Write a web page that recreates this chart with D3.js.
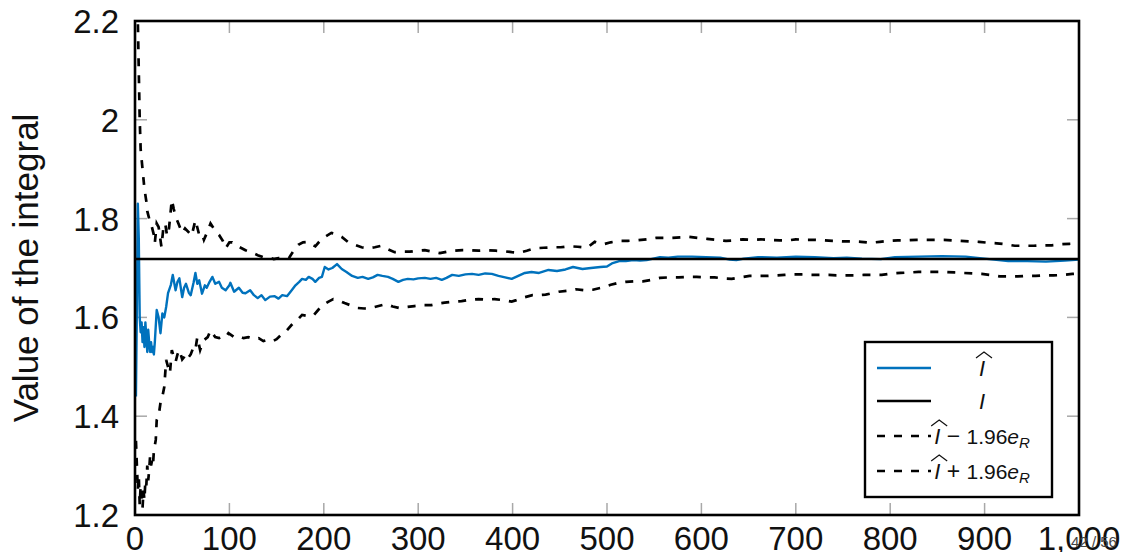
<!DOCTYPE html>
<html>
<head>
<meta charset="utf-8">
<script src="https://cdn.jsdelivr.net/npm/d3@7"></script>
<style>
  html, body { margin: 0; padding: 0; background: #fff; }
  svg { display: block; }
</style>
</head>
<body>
<svg id="chart" width="1126" height="552"></svg>
<script>
// ---------------- data ----------------
const trueValue = 1.71828;

const nHat = [1,2,3,4,5,6,7,8,9,10,11,12,13,14,15,16,17,18,19,20,21,23,25,27,29,31,33,35,38,40,43,45,47,50,52,54,57,59,62,64,66,68,71,74,76,79,82,85,89,92,96,100,101,105,110,114,117,122,126,130,134,138,143,148,152,156,161,166,170,174,177,181,184,188,191,195,198,201,205,209,214,219,224,230,236,241,247,252,257,262,268,273,279,284,289,295,300,307,313,319,325,330,336,343,350,357,364,371,378,385,392,399,406,413,420,428,438,447,456,464,474,483,493,500,506,513,520,528,535,542,549,556,565,575,590,605,620,630,637,645,660,680,700,720,740,754,770,790,805,830,855,880,895,910,925,945,965,985,1000];
const hatVals = [1.44,1.62,1.83,1.76,1.60,1.57,1.59,1.55,1.58,1.54,1.59,1.56,1.53,1.575,1.55,1.53,1.55,1.53,1.54,1.525,1.55,1.615,1.60,1.568,1.608,1.60,1.621,1.649,1.666,1.686,1.655,1.672,1.679,1.641,1.660,1.668,1.650,1.645,1.670,1.690,1.668,1.675,1.648,1.665,1.660,1.672,1.682,1.668,1.672,1.660,1.655,1.665,1.670,1.652,1.660,1.650,1.649,1.655,1.645,1.639,1.645,1.635,1.642,1.643,1.638,1.645,1.643,1.655,1.665,1.672,1.678,1.676,1.682,1.678,1.672,1.680,1.682,1.702,1.697,1.700,1.708,1.698,1.692,1.684,1.680,1.682,1.678,1.681,1.686,1.684,1.682,1.678,1.672,1.676,1.678,1.677,1.679,1.680,1.678,1.680,1.676,1.680,1.686,1.684,1.687,1.688,1.686,1.689,1.688,1.684,1.681,1.678,1.684,1.690,1.692,1.690,1.696,1.694,1.697,1.702,1.698,1.700,1.702,1.703,1.710,1.714,1.714,1.716,1.715,1.716,1.719,1.722,1.721,1.723,1.723,1.722,1.721,1.717,1.716,1.719,1.722,1.721,1.723,1.722,1.720,1.721,1.719,1.718,1.722,1.723,1.724,1.723,1.720,1.717,1.714,1.714,1.713,1.715,1.717];

const nUpper = [1,2,3,4,5,6,8,10,12,13,15,17,20,21,23,25,28,30,32,34,36,39,41,43,46,50,53,57,60,64,68,71,73,77,80,85,89,93,96,100,103,108,113,117,123,130,136,141,147,152,158,163,168,173,178,184,188,191,196,201,208,214,219,226,233,240,247,254,261,268,275,283,291,299,307,315,323,331,339,347,356,364,373,382,391,399,407,415,424,433,442,451,460,469,479,487,496,504,513,522,532,542,552,560,569,578,587,596,606,616,626,635,644,654,663,673,683,692,700,710,720,730,739,749,759,769,779,789,798,808,818,828,837,847,857,866,874,884,894,904,913,922,932,942,952,961,971,981,990,1000];
const upperVals = [2.40,2.35,2.20,2.10,2.00,1.94,1.90,1.86,1.835,1.815,1.80,1.79,1.767,1.751,1.79,1.783,1.743,1.78,1.79,1.765,1.78,1.838,1.82,1.804,1.79,1.771,1.78,1.772,1.765,1.797,1.767,1.770,1.757,1.775,1.790,1.775,1.767,1.755,1.740,1.752,1.752,1.745,1.740,1.736,1.732,1.726,1.722,1.722,1.718,1.720,1.719,1.720,1.735,1.747,1.752,1.753,1.747,1.744,1.755,1.763,1.771,1.768,1.763,1.752,1.747,1.742,1.740,1.742,1.745,1.738,1.732,1.733,1.733,1.735,1.736,1.733,1.730,1.733,1.735,1.736,1.736,1.735,1.736,1.735,1.734,1.732,1.731,1.735,1.740,1.741,1.742,1.742,1.744,1.743,1.741,1.753,1.748,1.752,1.755,1.755,1.756,1.758,1.761,1.761,1.761,1.762,1.763,1.761,1.759,1.757,1.755,1.756,1.758,1.757,1.758,1.757,1.756,1.756,1.758,1.757,1.757,1.756,1.755,1.754,1.754,1.753,1.751,1.753,1.755,1.756,1.756,1.757,1.757,1.757,1.757,1.756,1.755,1.754,1.753,1.751,1.750,1.748,1.745,1.745,1.745,1.746,1.746,1.748,1.749,1.750];

const nLower = [1,2,3,4,5,6,7,8,9,10,11,12,13,14,15,16,17,18,19,20,22,23,25,27,29,31,33,35,37,39,41,43,45,47,50,52,54,57,59,62,64,66,69,71,73,77,80,85,89,92,96,99,105,110,115,120,126,131,136,141,146,150,155,160,166,172,177,183,189,194,199,205,210,216,222,229,236,243,250,258,266,273,280,288,296,305,314,321,328,337,346,355,364,372,381,390,399,404,413,421,428,435,442,449,458,467,476,485,494,504,512,520,529,538,547,556,566,576,585,595,605,614,623,632,641,651,660,669,679,688,697,706,716,726,735,743,753,763,772,781,791,802,811,821,830,840,849,858,868,877,887,897,906,916,925,935,944,954,963,973,983,993,1000];
const lowerVals = [1.35,1.30,1.25,1.28,1.22,1.26,1.24,1.215,1.25,1.23,1.27,1.26,1.30,1.27,1.29,1.32,1.30,1.31,1.30,1.33,1.352,1.392,1.40,1.427,1.44,1.459,1.514,1.50,1.487,1.534,1.52,1.51,1.525,1.534,1.515,1.52,1.528,1.52,1.525,1.540,1.535,1.560,1.534,1.545,1.554,1.560,1.574,1.560,1.558,1.562,1.560,1.568,1.560,1.562,1.558,1.560,1.556,1.558,1.552,1.555,1.552,1.556,1.565,1.572,1.585,1.595,1.605,1.603,1.604,1.615,1.625,1.632,1.637,1.634,1.629,1.624,1.619,1.618,1.619,1.623,1.627,1.622,1.619,1.621,1.623,1.625,1.625,1.628,1.630,1.632,1.633,1.636,1.637,1.636,1.637,1.635,1.632,1.635,1.641,1.645,1.645,1.646,1.649,1.652,1.654,1.657,1.655,1.656,1.660,1.666,1.670,1.672,1.673,1.673,1.676,1.680,1.681,1.681,1.682,1.682,1.681,1.681,1.679,1.678,1.681,1.684,1.684,1.684,1.685,1.686,1.687,1.687,1.686,1.686,1.686,1.685,1.685,1.685,1.686,1.686,1.686,1.689,1.690,1.691,1.692,1.692,1.692,1.692,1.691,1.690,1.689,1.688,1.686,1.683,1.683,1.683,1.684,1.684,1.685,1.685,1.686,1.688,1.689];

const xTicks = [0,100,200,300,400,500,600,700,800,900,1000];
const yTicks = [1.2,1.4,1.6,1.8,2,2.2];
const yTitle = "Value of the integral";
const pageLabel = "42 / 56";

// ---------------- drawing ----------------
const svg = d3.select("#chart");
const L = 135, R = 1079, T = 21, B = 515;
const x = d3.scaleLinear().domain([0, 1000]).range([L, R]);
const y = d3.scaleLinear().domain([1.2, 2.2]).range([B, T]);
const FONT = "'Liberation Sans', Arial, sans-serif";
const BLUE = "#0072bd";
const DASH = "8,9";

svg.append("defs").append("clipPath").attr("id", "plotclip")
  .append("rect").attr("x", L).attr("y", T).attr("width", R - L).attr("height", B - T);

// ticks (inward, mirrored on all sides)
const tickLen = 12, tickCol = "#a8a8a8";
const gT = svg.append("g").attr("stroke", tickCol).attr("stroke-width", 1.5);
xTicks.forEach(t => {
  gT.append("line").attr("x1", x(t)).attr("x2", x(t)).attr("y1", B).attr("y2", B - tickLen);
  gT.append("line").attr("x1", x(t)).attr("x2", x(t)).attr("y1", T).attr("y2", T + tickLen);
});
yTicks.forEach(t => {
  gT.append("line").attr("x1", L).attr("x2", L + tickLen).attr("y1", y(t)).attr("y2", y(t));
  gT.append("line").attr("x1", R).attr("x2", R - tickLen).attr("y1", y(t)).attr("y2", y(t));
});

// data lines
const plot = svg.append("g").attr("clip-path", "url(#plotclip)");
const line = d3.line().x(d => x(d[0])).y(d => y(d[1]));
const zip = (a, b) => a.map((v, i) => [v, b[i]]);

plot.append("path").datum(zip(nUpper, upperVals)).attr("d", line)
  .attr("fill", "none").attr("stroke", "#000").attr("stroke-width", 2.7).attr("stroke-dasharray", DASH);
plot.append("path").datum(zip(nLower, lowerVals)).attr("d", line)
  .attr("fill", "none").attr("stroke", "#000").attr("stroke-width", 2.7).attr("stroke-dasharray", DASH);
plot.append("path").datum(zip(nHat, hatVals)).attr("d", line)
  .attr("fill", "none").attr("stroke", BLUE).attr("stroke-width", 2.4).attr("stroke-linejoin", "round");
plot.append("line").attr("x1", x(0)).attr("x2", x(1000)).attr("y1", y(trueValue)).attr("y2", y(trueValue))
  .attr("stroke", "#000").attr("stroke-width", 2.4);

// frame
svg.append("rect").attr("x", L).attr("y", T).attr("width", R - L).attr("height", B - T)
  .attr("fill", "none").attr("stroke", "#000").attr("stroke-width", 2.6);

// tick labels
const fmtX = d3.format(",");
svg.append("g").selectAll("text").data(xTicks).join("text")
  .attr("x", d => x(d)).attr("y", 550).attr("text-anchor", "middle")
  .attr("font-family", FONT).attr("font-size", 33).attr("fill", "#111")
  .text(d => fmtX(d));
svg.append("g").selectAll("text").data(yTicks).join("text")
  .attr("x", 119).attr("y", d => y(d) + 12).attr("text-anchor", "end")
  .attr("font-family", FONT).attr("font-size", 33).attr("fill", "#111")
  .text(d => String(d));

// y title
svg.append("text").attr("transform", `translate(38,${(T + B) / 2}) rotate(-90)`)
  .attr("text-anchor", "middle").attr("font-family", FONT).attr("font-size", 35).attr("fill", "#111")
  .text(yTitle);

// legend
const lg = svg.append("g");
lg.append("rect").attr("x", 865).attr("y", 342).attr("width", 187).attr("height", 155)
  .attr("fill", "#fff").attr("stroke", "#000").attr("stroke-width", 2.4);
const rows = [
  { y: 368, stroke: BLUE, dash: null, hat: true, rest: null },
  { y: 401, stroke: "#000", dash: null, hat: false, rest: null },
  { y: 436, stroke: "#000", dash: DASH, hat: true, rest: "\u2212" },
  { y: 471, stroke: "#000", dash: DASH, hat: true, rest: "+" }
];
rows.forEach(r => {
  lg.append("line").attr("x1", 877).attr("x2", 931).attr("y1", r.y).attr("y2", r.y)
    .attr("stroke", r.stroke).attr("stroke-width", r.dash ? 2.7 : 2.4).attr("stroke-dasharray", r.dash);
  const t = lg.append("text").attr("x", 982).attr("y", r.y + 8).attr("text-anchor", "middle")
    .attr("font-family", FONT).attr("font-size", 22).attr("fill", "#111");
  t.append("tspan").attr("font-style", "italic").text("I");
  if (r.rest) {
    t.append("tspan").attr("font-size", 23).text(" " + r.rest + " ");
    t.append("tspan").attr("font-size", 21).text("1.96");
    t.append("tspan").attr("font-style", "italic").attr("font-size", 21).text("e");
    t.append("tspan").attr("font-style", "italic").attr("font-size", 15).attr("dy", 4).text("R");
  }
  if (r.hat) {
    const node = t.node();
    const s = node.getStartPositionOfChar(0), e = node.getEndPositionOfChar(0);
    const cx = (s.x + e.x) / 2 + 2;
    const top = r.y + 8 - 21;
    lg.append("path")
      .attr("d", `M${cx - 8},${top + 3} L${cx},${top - 3} L${cx + 8},${top + 3}`)
      .attr("fill", "none").attr("stroke", "#111").attr("stroke-width", 1.2);
  }
});

// page number
svg.append("text").attr("x", 1094).attr("y", 547).attr("text-anchor", "middle")
  .attr("font-family", FONT).attr("font-size", 15).attr("fill", "#444").text(pageLabel);
</script>
</body>
</html>
